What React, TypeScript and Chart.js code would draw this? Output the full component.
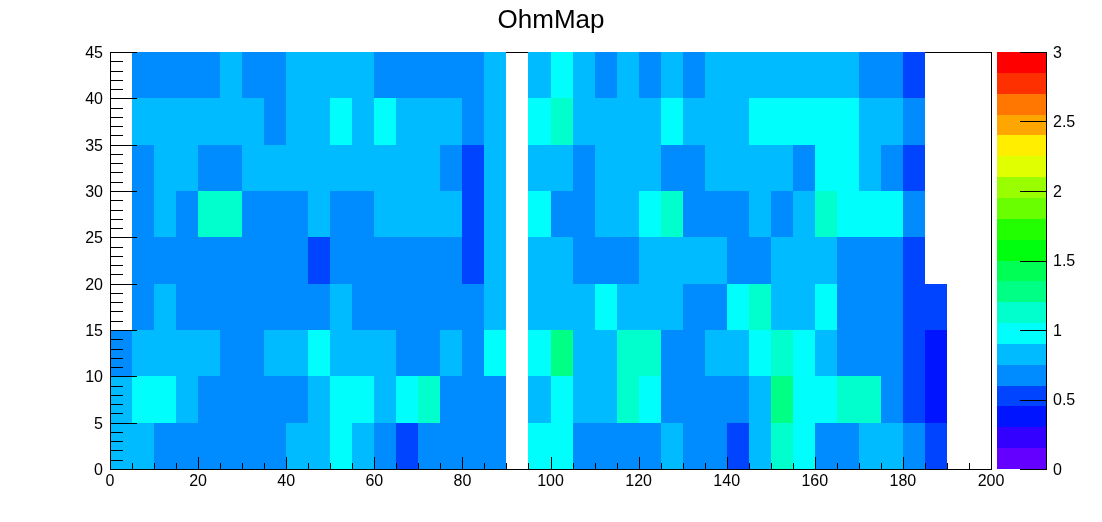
import React, { useEffect, useRef } from "react";
import { Chart, registerables } from "chart.js";

Chart.register(...registerables);

const TITLE = "OhmMap";
const FONT = "'Liberation Sans', Arial, Helvetica, sans-serif";

// bin low edges (bin width 5 on both axes)
const xBinLow = [
  0, 5, 10, 15, 20, 25, 30, 35, 40, 45, 50, 55, 60, 65, 70, 75, 80, 85, 90, 95,
  100, 105, 110, 115, 120, 125, 130, 135, 140, 145, 150, 155, 160, 165, 170, 175, 180, 185, 190, 195,
];
const yBinLow = [0, 5, 10, 15, 20, 25, 30, 35, 40];
const BIN_W = 5;
const BIN_H = 5;

const X_MIN = 0, X_MAX = 200, X_STEP = 20;
const Y_MIN = 0, Y_MAX = 45, Y_STEP = 5;
const Z_MIN = 0, Z_MAX = 3, Z_STEP = 0.5;

// 20 contour colours (ROOT "pretty" palette), lowest level first
const palette = [
  "#6300ff", "#3300ff", "#0014ff", "#0044ff", "#008bff",
  "#00bbff", "#00fffc", "#00ffcc", "#00ff85", "#00ff55",
  "#00ff0e", "#22ff00", "#69ff00", "#99ff00", "#e0ff00",
  "#ffee00", "#ffa700", "#ff7700", "#ff3000", "#ff0000",
];

// bin contents, one array per y-row (row0 = y 0-5 ... row8 = y 40-45); null = empty bin
const row0 = [0.83, 0.83, 0.68, 0.68, 0.68, 0.68, 0.68, 0.68, 0.83, 0.83, 0.97, 0.83, 0.68, 0.53, 0.68, 0.68, 0.68, 0.68, null, 0.97, 0.97, 0.68, 0.68, 0.68, 0.68, 0.83, 0.68, 0.68, 0.53, 0.83, 1.12, 0.97, 0.68, 0.68, 0.83, 0.83, 0.68, 0.53, null, null];
const row1 = [0.83, 0.97, 0.97, 0.83, 0.68, 0.68, 0.68, 0.68, 0.68, 0.83, 0.97, 0.97, 0.83, 0.97, 1.12, 0.68, 0.68, 0.68, null, 0.83, 0.97, 0.83, 0.83, 1.12, 0.97, 0.68, 0.68, 0.68, 0.68, 0.83, 1.28, 0.97, 0.97, 1.12, 1.12, 0.68, 0.53, 0.4, null, null];
const row2 = [0.68, 0.83, 0.83, 0.83, 0.83, 0.68, 0.68, 0.83, 0.83, 0.97, 0.83, 0.83, 0.83, 0.68, 0.68, 0.83, 0.68, 0.97, null, 0.97, 1.28, 0.83, 0.83, 1.12, 1.12, 0.68, 0.68, 0.83, 0.83, 0.97, 1.12, 0.97, 0.83, 0.68, 0.68, 0.68, 0.53, 0.4, null, null];
const row3 = [null, 0.68, 0.83, 0.68, 0.68, 0.68, 0.68, 0.68, 0.68, 0.68, 0.83, 0.68, 0.68, 0.68, 0.68, 0.68, 0.68, 0.83, null, 0.83, 0.83, 0.83, 0.97, 0.83, 0.83, 0.83, 0.68, 0.68, 0.97, 1.12, 0.83, 0.83, 0.97, 0.68, 0.68, 0.68, 0.53, 0.53, null, null];
const row4 = [null, 0.68, 0.68, 0.68, 0.68, 0.68, 0.68, 0.68, 0.68, 0.53, 0.68, 0.68, 0.68, 0.68, 0.68, 0.68, 0.53, 0.83, null, 0.83, 0.83, 0.68, 0.68, 0.68, 0.83, 0.83, 0.83, 0.83, 0.68, 0.68, 0.83, 0.83, 0.83, 0.68, 0.68, 0.68, 0.53, null, null, null];
const row5 = [null, 0.68, 0.83, 0.68, 1.12, 1.12, 0.68, 0.68, 0.68, 0.83, 0.68, 0.68, 0.83, 0.83, 0.83, 0.83, 0.53, 0.83, null, 0.97, 0.68, 0.68, 0.83, 0.83, 0.97, 1.12, 0.68, 0.68, 0.68, 0.83, 0.68, 0.83, 1.12, 0.97, 0.97, 0.97, 0.68, null, null, null];
const row6 = [null, 0.68, 0.83, 0.83, 0.68, 0.68, 0.83, 0.83, 0.83, 0.83, 0.83, 0.83, 0.83, 0.83, 0.83, 0.68, 0.53, 0.83, null, 0.83, 0.83, 0.68, 0.83, 0.83, 0.83, 0.68, 0.68, 0.83, 0.83, 0.83, 0.83, 0.68, 0.97, 0.97, 0.83, 0.68, 0.53, null, null, null];
const row7 = [null, 0.83, 0.83, 0.83, 0.83, 0.83, 0.83, 0.68, 0.83, 0.83, 0.97, 0.83, 0.97, 0.83, 0.83, 0.83, 0.68, 0.83, null, 0.97, 1.12, 0.83, 0.83, 0.83, 0.83, 0.97, 0.83, 0.83, 0.83, 0.97, 0.97, 0.97, 0.97, 0.97, 0.83, 0.83, 0.68, null, null, null];
const row8 = [null, 0.68, 0.68, 0.68, 0.68, 0.83, 0.68, 0.68, 0.83, 0.83, 0.83, 0.83, 0.68, 0.68, 0.68, 0.68, 0.68, 0.83, null, 0.83, 0.97, 0.83, 0.68, 0.83, 0.68, 0.83, 0.68, 0.83, 0.83, 0.83, 0.83, 0.83, 0.83, 0.83, 0.68, 0.68, 0.53, null, null, null];

const rows = [row0, row1, row2, row3, row4, row5, row6, row7, row8];

type Cell = { x: number; y: number; v: number };
const cells: Cell[] = [];
rows.forEach((row, j) =>
  row.forEach((v, i) => {
    if (v !== null) cells.push({ x: xBinLow[i], y: yBinLow[j], v });
  })
);

function colorFor(v: number) {
  const n = palette.length;
  let k = Math.floor(((v - Z_MIN) / (Z_MAX - Z_MIN)) * n);
  if (k < 0) k = 0;
  if (k > n - 1) k = n - 1;
  return palette[k];
}

const CB_LEFT = 997;
const CB_RIGHT = 1046;
const CB_TICK = 26;

const heatPlugin = {
  id: "rootHeat",
  afterDatasetsDraw(chart: any) {
    const { ctx, chartArea: a, scales } = chart;
    const xs = scales.x, ys = scales.y, zs = scales.z;
    const L = Math.round(a.left), R = Math.round(a.right), T = Math.round(a.top), B = Math.round(a.bottom);
    ctx.save();
    // frame (top + right)
    ctx.fillStyle = "#000";
    ctx.fillRect(L, T, R - L + 1, 1);
    ctx.fillRect(R, T, 1, B - T + 1);

    // cells
    const data: Cell[] = chart.data.datasets[0].data;
    data.forEach((c) => {
      const x0 = Math.round(xs.getPixelForValue(c.x));
      const x1 = Math.round(xs.getPixelForValue(c.x + BIN_W));
      const y0 = Math.round(ys.getPixelForValue(c.y + BIN_H));
      const y1 = Math.round(ys.getPixelForValue(c.y));
      ctx.fillStyle = colorFor(c.v);
      ctx.fillRect(x0, y0, x1 - x0, y1 - y0);
    });

    // axes lines
    ctx.fillStyle = "#000";
    ctx.fillRect(L, T, 1, B - T + 1);
    ctx.fillRect(L, B, R - L + 1, 1);

    // x ticks (inward), 4 sub-divisions per major
    const xMajor: number[] = xs.ticks.map((t: any) => t.value);
    for (let m = 0; m < xMajor.length; m++) {
      const v = xMajor[m];
      const px = Math.round(xs.getPixelForValue(v));
      ctx.fillRect(px, B - 12, 1, 12);
      if (m < xMajor.length - 1) {
        const step = (xMajor[m + 1] - v) / 4;
        for (let s = 1; s < 4; s++) {
          const p = Math.round(xs.getPixelForValue(v + s * step));
          ctx.fillRect(p, B - 6, 1, 6);
        }
      }
    }
    // y ticks (inward), 5 sub-divisions per major
    const yMajor: number[] = ys.ticks.map((t: any) => t.value);
    for (let m = 0; m < yMajor.length; m++) {
      const v = yMajor[m];
      const py = Math.round(ys.getPixelForValue(v));
      ctx.fillRect(L, py, 27, 1);
      if (m < yMajor.length - 1) {
        const step = (yMajor[m + 1] - v) / 5;
        for (let s = 1; s < 5; s++) {
          const p = Math.round(ys.getPixelForValue(v + s * step));
          ctx.fillRect(L, p, 13, 1);
        }
      }
    }

    // colour bar
    const n = palette.length;
    const dz = (Z_MAX - Z_MIN) / n;
    for (let k = 0; k < n; k++) {
      const y0 = Math.round(zs.getPixelForValue(Z_MIN + (k + 1) * dz));
      const y1 = Math.round(zs.getPixelForValue(Z_MIN + k * dz));
      ctx.fillStyle = palette[k];
      ctx.fillRect(CB_LEFT, y0, CB_RIGHT - CB_LEFT, y1 - y0);
    }
    ctx.fillStyle = "#000";
    ctx.fillRect(CB_RIGHT, T, 1, B - T + 1);
    zs.ticks.forEach((t: any) => {
      const py = Math.round(zs.getPixelForValue(t.value));
      ctx.fillRect(CB_RIGHT - CB_TICK, py, CB_TICK, 1);
    });
    ctx.restore();
  },
};

export default function App() {
  const ref = useRef<HTMLCanvasElement>(null);
  useEffect(() => {
    if (!ref.current) return;
    const tickFont = { family: FONT, size: 16 };
    const chart = new Chart(ref.current, {
      type: "scatter",
      data: {
        datasets: [
          {
            label: TITLE,
            data: cells as any,
            pointRadius: 0,
            pointHoverRadius: 0,
            showLine: false,
          },
        ],
      },
      options: {
        responsive: false,
        animation: false,
        devicePixelRatio: 1,
        events: [],
        layout: { padding: 0 },
        plugins: {
          legend: { display: false },
          tooltip: { enabled: false },
          title: {
            display: true,
            text: TITLE,
            color: "#000",
            font: { family: FONT, size: 26, weight: "normal" },
            padding: { top: 5, bottom: 15.8 },
          },
        },
        scales: {
          x: {
            type: "linear",
            position: "bottom",
            min: X_MIN,
            max: X_MAX,
            grid: { display: false, drawTicks: false },
            border: { display: false },
            ticks: {
              stepSize: X_STEP,
              autoSkip: false,
              maxRotation: 0,
              color: "#000",
              font: tickFont,
              padding: 3,
            },
            afterFit: (s: any) => {
              s.height = 53;
            },
          },
          y: {
            type: "linear",
            position: "left",
            min: Y_MIN,
            max: Y_MAX,
            grid: { display: false, drawTicks: false },
            border: { display: false },
            ticks: {
              stepSize: Y_STEP,
              autoSkip: false,
              color: "#000",
              font: tickFont,
              padding: 7,
              labelOffset: 1.5,
            },
            afterFit: (s: any) => {
              s.width = 110;
              s.paddingTop = 12;
              s.paddingBottom = 12;
            },
          },
          z: {
            type: "linear",
            position: "right",
            display: true,
            min: Z_MIN,
            max: Z_MAX,
            grid: { display: false, drawTicks: false },
            border: { display: false },
            ticks: {
              stepSize: Z_STEP,
              autoSkip: false,
              color: "#000",
              font: tickFont,
              padding: 62,
              labelOffset: 1.5,
              callback: (v: any) => String(Number(v)),
            },
            afterFit: (s: any) => {
              s.width = 111;
              s.paddingTop = 12;
              s.paddingBottom = 12;
            },
          },
        },
      } as any,
      plugins: [heatPlugin],
    });
    return () => chart.destroy();
  }, []);
  return (
    <div style={{ position: "absolute", left: 0, top: 0, width: 1102, height: 522, background: "#fff" }}>
      <canvas ref={ref} width={1102} height={522} style={{ display: "block", width: 1102, height: 522 }} />
    </div>
  );
}
